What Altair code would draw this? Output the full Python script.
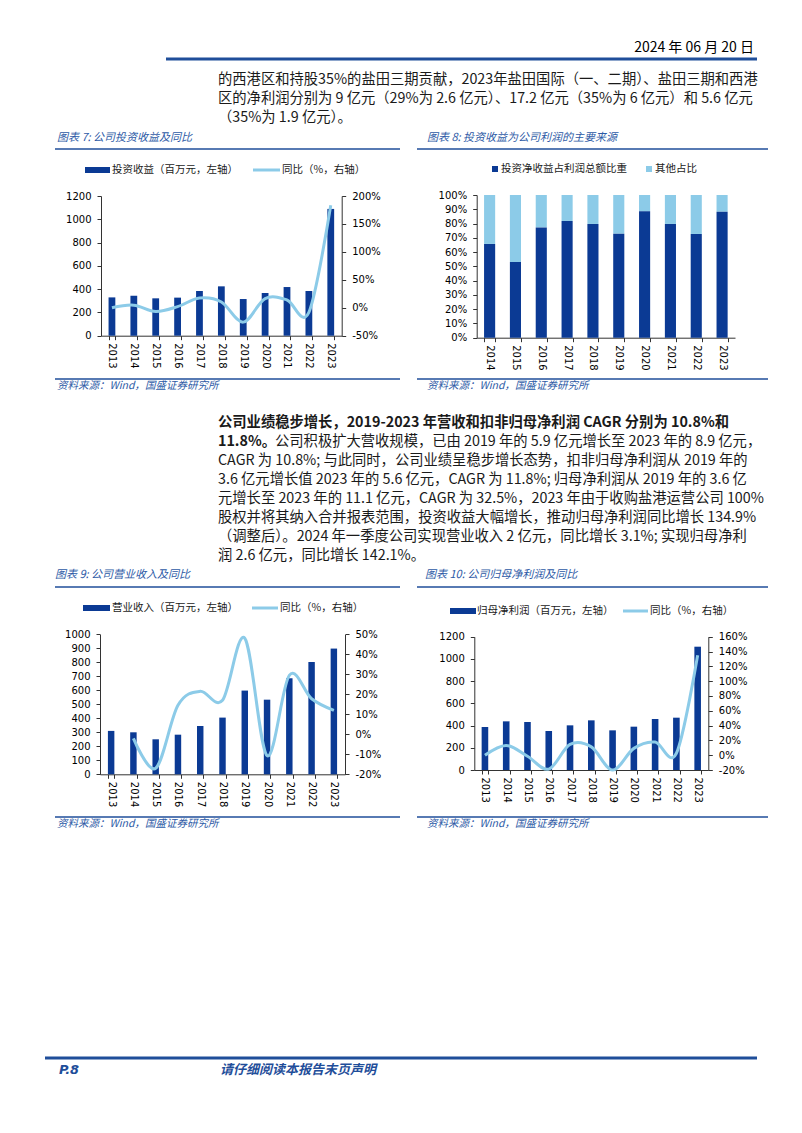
import altair as alt
import pandas as pd

FONT = "Noto Sans CJK SC"
NUM_FONT = "DejaVu Sans"
DARK = "#0b3a94"
LIGHT = "#8ccbe8"
BLUE = "#1f4e9a"
TBLUE = "#2d5aa6"
AXC = "#333333"

# ---------------- data ----------------
years = ["2013", "2014", "2015", "2016", "2017", "2018", "2019", "2020", "2021", "2022", "2023"]
years8 = ["2014", "2015", "2016", "2017", "2018", "2019", "2020", "2021", "2022", "2023"]

invest_income = [329, 344, 321, 327, 384, 424, 315, 367, 418, 384, 1089]
invest_yoy = [0, 4.6, -6.7, 2.0, 17.4, 10.4, -25.7, 16.5, 13.9, -8.1, 183.6]

invest_share = [65.7, 53.0, 77.3, 81.8, 79.7, 72.9, 88.6, 79.7, 72.7, 88.3]

revenue = [310, 300, 250, 283, 345, 405, 598, 533, 686, 802, 898]
revenue_yoy = [None, -2.0, -17.0, 14.5, 21.5, 17.0, 48.0, -10.7, 29.5, 17.8, 12.0]

net_profit = [387, 438, 432, 351, 402, 447, 357, 390, 459, 471, 1110]
net_profit_yoy = [0, 13.2, -1.4, -18.8, 14.5, 11.2, -20.1, 9.2, 17.7, 2.6, 134.9]

df7 = pd.DataFrame({"year": years, "bar": invest_income, "yoy": invest_yoy})
df8 = pd.DataFrame({"year": years8, "share": invest_share})
df9 = pd.DataFrame({"year": years, "bar": revenue, "yoy": revenue_yoy})
df10 = pd.DataFrame({"year": years, "bar": net_profit, "yoy": net_profit_yoy})

# ---------------- helpers ----------------
W, H = 786, 1117
BODY = 14.3


def px(x):
    return x - 8


def py(y):
    return y - 8


one = pd.DataFrame({"k": [0]})


def text(s, x, y, size=BODY, color="#1a1a1a", align="left", weight="normal", style="normal", font=FONT):
    return alt.Chart(one).mark_text(
        align=align, baseline="middle", font=font, fontSize=size, color=color,
        fontWeight=weight, fontStyle=style
    ).encode(x=alt.value(px(x)), y=alt.value(py(y)), text=alt.value(s))


def hline(x1, x2, y, w=1.5, color=BLUE):
    return alt.Chart(one).mark_rule(color=color, strokeWidth=w).encode(
        x=alt.value(px(x1)), x2=alt.value(px(x2)), y=alt.value(py(y)))


def rect(x1, x2, y1, y2, color):
    return alt.Chart(one).mark_rect(color=color).encode(
        x=alt.value(px(x1)), x2=alt.value(px(x2)), y=alt.value(py(y1)), y2=alt.value(py(y2)))


AX = dict(labelFont=NUM_FONT, labelFontSize=10, labelColor="#000000", domainColor=AXC,
          tickColor=AXC, grid=False, title=None, labelOverlap=False, tickSize=4)


def left_axis(xpos, values, expr="datum.value"):
    return alt.Axis(orient="left", offset=-px(xpos), values=values, labelPadding=6,
                    labelExpr=expr, **AX)


def right_axis(xpos, values, expr="datum.value + '%'"):
    return alt.Axis(orient="right", offset=px(xpos) - W, values=values, labelPadding=6,
                    labelExpr=expr, **AX)


def bottom_axis(ypos):
    return alt.Axis(orient="bottom", offset=py(ypos) - H, labelAngle=90, tickBand="extent",
                    labelPadding=3, **AX)


def combo(df, x0, x1, ybot, ytop, ymax, yticks, rmin, rmax, rticks, pin):
    xs = alt.Scale(domain=years, range=[px(x0), px(x1)], paddingInner=pin, paddingOuter=pin / 2)
    yr = [py(ybot), py(ytop)]
    bars = alt.Chart(df).mark_bar(color=DARK).encode(
        x=alt.X("year:N", scale=xs, axis=bottom_axis(ybot)),
        y=alt.Y("bar:Q", scale=alt.Scale(domain=[0, ymax], range=yr, nice=False),
                axis=left_axis(x0, yticks)),
    )
    line = alt.Chart(df).mark_line(color=LIGHT, strokeWidth=3, interpolate="cardinal").encode(
        x=alt.X("year:N", scale=xs, axis=None),
        y=alt.Y("yoy:Q", scale=alt.Scale(domain=[rmin, rmax], range=yr, nice=False, zero=False),
                axis=right_axis(x1, rticks)),
    )
    return [bars, line]


layers = []

# ---------------- header ----------------
layers.append(text("2024 年 06 月 20 日", 754, 48, size=14, align="right", color="#000000"))
layers.append(hline(166, 757, 59, w=3, color=BLUE))

para1 = [
    "的西港区和持股35%的盐田三期贡献，2023年盐田国际（一、二期）、盐田三期和西港",
    "区的净利润分别为 9 亿元（29%为 2.6 亿元）、17.2 亿元（35%为 6 亿元）和 5.6 亿元",
    "（35%为 1.9 亿元）。",
]
for i, s in enumerate(para1):
    layers.append(text(s, 218, 80 + 19 * i))

# ---------------- chart 7 ----------------
layers.append(text("图表 7: 公司投资收益及同比", 57, 137.5, size=11, color=TBLUE, style="italic"))
layers.append(hline(55, 400, 149))
layers.append(rect(85, 110, 167, 173, DARK))
layers.append(text("投资收益（百万元，左轴）", 112, 170, size=10.5))
layers.append(hline(253, 280, 170, w=3, color=LIGHT))
layers.append(text("同比（%，右轴）", 282, 170, size=10.5))
layers += combo(df7, 101, 341.7, 335.7, 196, 1200, [0, 200, 400, 600, 800, 1000, 1200],
                -50, 200, [-50, 0, 50, 100, 150, 200], 0.69)
layers.append(hline(55, 400, 379))
layers.append(text("资料来源：Wind，国盛证券研究所", 57, 385.5, size=10.5, color=TBLUE, style="italic"))

# ---------------- chart 8 ----------------
layers.append(text("图表 8: 投资收益为公司利润的主要来源", 427, 137.5, size=11, color=TBLUE, style="italic"))
layers.append(hline(417, 768, 149))
layers.append(rect(492, 498, 166, 172, DARK))
layers.append(text("投资净收益占利润总额比重", 501, 169, size=10.5))
layers.append(rect(646, 652, 166, 172, LIGHT))
layers.append(text("其他占比", 655, 169, size=10.5))

xs8 = alt.Scale(domain=years8, range=[px(476.7), px(735)], paddingInner=0.57, paddingOuter=0.285)
ys8 = alt.Scale(domain=[0, 100], range=[py(337.7), py(195)], nice=False)
share_bar = alt.Chart(df8).mark_bar(color=DARK).encode(
    x=alt.X("year:N", scale=xs8, axis=bottom_axis(337.7)),
    y=alt.Y("share:Q", scale=ys8,
            axis=left_axis(476.7, [0, 10, 20, 30, 40, 50, 60, 70, 80, 90, 100], "datum.value + '%'")),
)
other_bar = alt.Chart(df8).transform_calculate(top="100").mark_bar(color=LIGHT).encode(
    x=alt.X("year:N", scale=xs8, axis=None),
    y=alt.Y("share:Q", scale=ys8, axis=None),
    y2=alt.Y2("top:Q"),
)
layers += [other_bar, share_bar]
layers.append(hline(417, 768, 379))
layers.append(text("资料来源：Wind，国盛证券研究所", 427, 385.5, size=10.5, color=TBLUE, style="italic"))

# ---------------- paragraph 2 ----------------
layers.append(text("公司业绩稳步增长，2019-2023 年营收和扣非归母净利润 CAGR 分别为 10.8%和",
                   218, 423, weight="bold"))
layers.append(text("11.8%。", 218, 442, weight="bold"))
layers.append(text("公司积极扩大营收规模，已由 2019 年的 5.9 亿元增长至 2023 年的 8.9 亿元，", 275, 442))
para2 = [
    "CAGR 为 10.8%; 与此同时，公司业绩呈稳步增长态势，扣非归母净利润从 2019 年的",
    "3.6 亿元增长值 2023 年的 5.6 亿元，CAGR 为 11.8%; 归母净利润从 2019 年的 3.6 亿",
    "元增长至 2023 年的 11.1 亿元，CAGR 为 32.5%，2023 年由于收购盐港运营公司 100%",
    "股权并将其纳入合并报表范围，投资收益大幅增长，推动归母净利润同比增长 134.9%",
    "（调整后）。2024 年一季度公司实现营业收入 2 亿元，同比增长 3.1%; 实现归母净利",
    "润 2.6 亿元，同比增长 142.1%。",
]
for i, s in enumerate(para2):
    layers.append(text(s, 218, 461 + 19 * i))

# ---------------- chart 9 ----------------
layers.append(text("图表 9: 公司营业收入及同比", 55, 575, size=11, color=TBLUE, style="italic"))
layers.append(hline(55, 400, 587))
layers.append(rect(83, 110, 605, 611, DARK))
layers.append(text("营业收入（百万元，左轴）", 112, 608, size=10.5))
layers.append(hline(252, 278, 608, w=3, color=LIGHT))
layers.append(text("同比（%，右轴）", 280, 608, size=10.5))
layers += combo(df9, 100, 345, 774.3, 634.3, 1000, [0, 100, 200, 300, 400, 500, 600, 700, 800, 900, 1000],
                -20, 50, [-20, -10, 0, 10, 20, 30, 40, 50], 0.71)
layers.append(hline(55, 400, 817))
layers.append(text("资料来源：Wind，国盛证券研究所", 57, 824, size=10.5, color=TBLUE, style="italic"))

# ---------------- chart 10 ----------------
layers.append(text("图表 10: 公司归母净利润及同比", 425, 575, size=11, color=TBLUE, style="italic"))
layers.append(hline(417, 768, 587))
layers.append(rect(450, 476, 608, 614, DARK))
layers.append(text("归母净利润（百万元，左轴）", 477, 611, size=10.5))
layers.append(hline(623, 648, 611, w=3, color=LIGHT))
layers.append(text("同比（%，右轴）", 650, 611, size=10.5))
layers += combo(df10, 474.3, 708.3, 770, 636.7, 1200, [0, 200, 400, 600, 800, 1000, 1200],
                -20, 160, [-20, 0, 20, 40, 60, 80, 100, 120, 140, 160], 0.69)
layers.append(hline(417, 768, 817))
layers.append(text("资料来源：Wind，国盛证券研究所", 427, 824, size=10.5, color=TBLUE, style="italic"))

# ---------------- footer ----------------
layers.append(hline(45, 757, 1058, w=3, color=BLUE))
layers.append(text("P.8", 59, 1069.5, size=13, color=BLUE, weight="bold", style="italic", font="DejaVu Sans"))
layers.append(text("请仔细阅读本报告末页声明", 220, 1069.5, size=13, color=BLUE, weight="bold", style="italic"))

chart = alt.layer(*layers).properties(
    width=W, height=H, autosize=alt.AutoSizeParams(type="none"), padding=0, background="white"
).resolve_scale(x="independent", y="independent").configure_view(stroke=None)

chart.save("out.html", embed_options={"renderer": "svg", "actions": False})
